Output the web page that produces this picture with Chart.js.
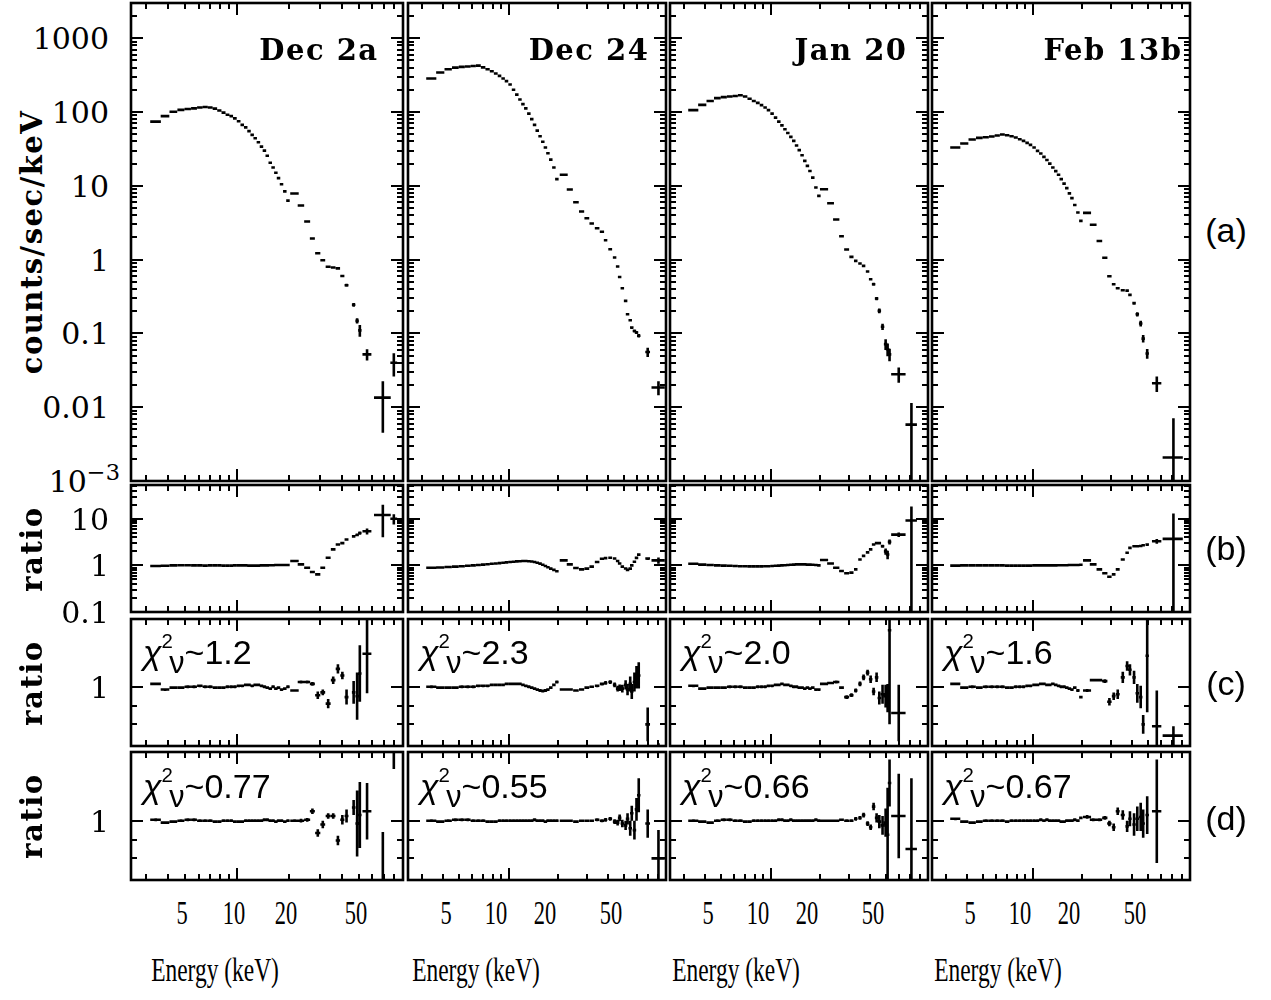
<!DOCTYPE html>
<html>
<head>
<meta charset="utf-8">
<title>Spectra and ratios</title>
<script src="https://cdn.jsdelivr.net/npm/chart.js@4.4.1/dist/chart.umd.min.js"></script>
<style>
  html, body { margin: 0; padding: 0; background: #fff; }
  body { position: relative; width: 1271px; height: 1000px; overflow: hidden; }
  canvas { position: absolute; }
  .txt { position: absolute; color: #000; white-space: nowrap; line-height: 1; }
  .mono { font-family: "DejaVu Serif", serif; font-weight: bold; font-size: 29px; letter-spacing: 1.5px; }
  .num { font-family: "DejaVu Serif", serif; font-size: 30px; }
  .num sup { font-size: 0.75em; position: relative; top: -0.55em; }
  .sans { font-family: "Liberation Sans", Arial, sans-serif; font-size: 34px; }
  .sans sup { font-size: 0.6em; position: relative; top: -0.8em; }
  .sans sub { font-size: 0.9em; position: relative; top: 0.28em; margin-left: -0.12em; }
  .tag { font-family: "Liberation Sans", Arial, sans-serif; font-size: 34px; }
  .cond { font-family: "Liberation Serif", "Times New Roman", serif; font-size: 33px; }
  sup, sub { vertical-align: baseline; line-height: 0; }
</style>
</head>
<body>
<script>
// energies are bin centres in keV, half widths in keV
const pcaEnergy = [3.4, 3.85, 4.3, 4.75, 5.2, 5.65, 6.1, 6.55, 7.0, 7.45, 7.9, 8.35, 8.8, 9.25, 9.7, 10.2,
  10.7, 11.2, 11.7, 12.2, 12.7, 13.25, 13.8, 14.35, 14.9, 15.5, 16.1, 16.7, 17.3, 18.0, 18.8, 19.6];
const pcaHalfWidth = [0.24, 0.22, 0.22, 0.22, 0.22, 0.22, 0.22, 0.22, 0.22, 0.22, 0.22, 0.22, 0.22, 0.22, 0.24, 0.25,
  0.25, 0.25, 0.25, 0.25, 0.26, 0.27, 0.27, 0.27, 0.28, 0.3, 0.3, 0.3, 0.32, 0.36, 0.4, 0.4];

const obsNames = ['Dec 2a', 'Dec 24', 'Jan 20', 'Feb 13b'];
const chiFitC = ['1.2', '2.3', '2.0', '1.6'];
const chiFitD = ['0.77', '0.55', '0.66', '0.67'];
const rowTags = ['(a)', '(b)', '(c)', '(d)'];

// ---- Dec 2a
const dec2aHexteE = [21.4, 23.3, 25.3, 27.1, 29.1, 31.1, 33.4, 35.7, 38.0, 40.3, 42.6, 46.8, 49.0, 50.8, 55.9, 68.9, 79.7];
const dec2aHexteHW = [1.2, 1.0, 1.0, 0.9, 1.0, 1.0, 1.1, 1.1, 1.1, 1.1, 1.1, 1.0, 0.9, 0.9, 3.3, 7.6, 3.6];
const dec2aCountsPca = [74, 88, 101, 107, 110, 112, 115, 117, 115, 111, 105, 98, 92, 88, 82, 75,
  67, 62, 55, 49, 44, 39, 34, 30, 25.5, 20.5, 17.7, 15, 12.7, 10.5, 8.4, 6.3];
const dec2aCountsHexte = [7.85, 5.4, 3.28, 1.93, 1.22, 0.98, 0.80, 0.78, 0.76, 0.6, 0.45, 0.244, 0.148, 0.11, 0.052, 0.0135, 0.040];
const dec2aCountsErr = [0.1, 0.08, 0.05, 0.03, 0.02, 0.02, 0.02, 0.02, 0.02, 0.02, 0.02, 0.015, 0.012, 0.02, 0.009, 0.009, 0.014];
const dec2aRatioBPca = [0.97, 0.98, 1.0, 1.01, 1.01, 1.0, 1.0, 0.99, 1.0, 1.0, 1.0, 0.99, 0.99, 0.99, 1.0, 1.0,
  1.0, 1.0, 0.99, 0.99, 0.99, 0.99, 1.0, 1.0, 1.0, 1.01, 1.01, 1.02, 1.02, 1.02, 1.02, 1.02];
const dec2aRatioBHexte = [1.24, 1.05, 0.89, 0.72, 0.64, 0.89, 1.46, 2.2, 2.8, 3.0, 3.6, 4.2, 4.5, 4.96, 5.4, 12, 10];
const dec2aRatioBErr = [0.02, 0.02, 0.02, 0.02, 0.02, 0.03, 0.05, 0.08, 0.1, 0.12, 0.15, 0.2, 0.3, 0.4, 0.8, 8, 2.5];
const dec2aRatioCPca = [1.03, 0.97, 0.99, 0.99, 1.0, 1.0, 1.01, 1.0, 1.0, 0.99, 0.99, 0.99, 1.0, 1.0, 1.0, 1.01,
  1.01, 1.02, 1.02, 1.01, 1.02, 1.02, 1.01, 1.0, 0.99, 0.98, 1.0, 0.98, 0.99, 0.97, 0.98, 1.0];
const dec2aRatioCHexte = [0.96, 1.05, 1.05, 1.03, 0.91, 0.94, 0.82, 1.07, 1.19, 1.12, 0.89, 0.94, 0.9, 1.14, 1.35, null, null];
const dec2aRatioCErr = [0.012, 0.015, 0.015, 0.02, 0.04, 0.03, 0.05, 0.04, 0.05, 0.04, 0.08, 0.12, 0.25, 0.3, 0.42, 0, 0];
const dec2aRatioDPca = [1.01, 0.98, 0.99, 1.0, 1.01, 1.01, 1.0, 1.0, 1.0, 0.99, 0.99, 1.0, 1.0, 1.0, 0.99, 0.99,
  0.99, 1.0, 1.0, 1.0, 1.0, 1.0, 1.0, 1.01, 1.01, 1.0, 1.0, 0.99, 1.0, 1.0, 0.99, 1.0];
const dec2aRatioDHexte = [1.0, 1.0, 1.01, 1.1, 0.87, 0.96, 1.05, 1.05, 0.79, 1.01, 1.05, 1.14, 0.97, 1.06, 1.1, 0.3, 1.85];
const dec2aRatioDErr = [0.015, 0.02, 0.02, 0.03, 0.04, 0.04, 0.03, 0.03, 0.05, 0.05, 0.07, 0.08, 0.35, 0.35, 0.3, 0.58, 0.3];

// ---- Dec 24
const dec24HexteE = [21.6, 23.5, 25.6, 27.7, 29.8, 31.9, 34.4, 36.8, 38.7, 41.3, 43.9, 45.8, 47.1, 48.9, 51.2, 52.6,
  54.6, 55.8, 57.9, 59.6, 61.5, 69.7, 81];
const dec24HexteHW = [1.2, 1.0, 1.0, 1.0, 1.0, 1.0, 1.1, 1.1, 0.9, 1.1, 1.0, 0.8, 0.6, 0.8, 0.9, 0.6,
  0.9, 0.6, 0.9, 0.8, 0.9, 2.3, 7.5];
const dec24CountsPca = [284, 343, 380, 400, 409, 414, 420, 425, 402, 380, 357, 333, 309, 284, 262, 236,
  200, 172, 148, 128, 112, 95, 80, 67, 56, 47, 39.5, 33, 27.6, 22.6, 17.7, 12.3];
const dec24CountsHexte = [14.1, 8.9, 6.0, 4.48, 3.64, 3.08, 2.66, 2.38, 1.83, 1.38, 1.07, 0.805, 0.58, 0.41, 0.276, 0.182,
  0.151, 0.12, 0.108, 0.103, 0.093, 0.056, 0.0185];
const dec24CountsErr = [0.1, 0.08, 0.06, 0.05, 0.04, 0.04, 0.03, 0.03, 0.03, 0.02, 0.02, 0.015, 0.012, 0.01, 0.008, 0.006,
  0.006, 0.005, 0.005, 0.005, 0.005, 0.008, 0.004];
const dec24RatioBPca = [0.89, 0.9, 0.92, 0.94, 0.96, 0.98, 1.0, 1.02, 1.04, 1.06, 1.08, 1.1, 1.12, 1.14, 1.16, 1.18,
  1.2, 1.22, 1.23, 1.24, 1.24, 1.23, 1.21, 1.18, 1.14, 1.09, 1.03, 0.97, 0.91, 0.85, 0.8, 0.75];
const dec24RatioBHexte = [1.28, 1.05, 0.88, 0.82, 0.85, 0.94, 1.18, 1.39, 1.43, 1.46, 1.4, 1.24, 1.1, 0.94, 0.86, 0.8,
  0.85, 1.0, 1.2, 1.45, 1.7, 1.4, 1.28];
const dec24RatioBErr = [0.01, 0.01, 0.01, 0.01, 0.01, 0.01, 0.02, 0.02, 0.02, 0.02, 0.02, 0.02, 0.02, 0.02, 0.02, 0.02,
  0.03, 0.03, 0.03, 0.04, 0.05, 0.1, 0.2];
const dec24RatioCPca = [1.0, 0.99, 0.99, 0.99, 1.0, 1.0, 1.0, 1.01, 1.01, 1.01, 1.02, 1.02, 1.02, 1.02, 1.03, 1.03,
  1.03, 1.03, 1.03, 1.02, 1.01, 1.0, 0.99, 0.98, 0.97, 0.96, 0.955, 0.96, 0.97, 0.99, 1.02, 1.05];
const dec24RatioCHexte = [0.97, 0.97, 0.96, 0.97, 0.99, 1.0, 1.01, 1.03, 1.04, 1.05, 1.02, 0.98, 0.99, 0.98, 1.02, 0.97,
  1.03, 0.95, 1.05, 1.1, 1.12, 0.6, 0.3];
const dec24RatioCErr = [0.01, 0.01, 0.01, 0.012, 0.012, 0.014, 0.015, 0.016, 0.02, 0.02, 0.025, 0.03, 0.035, 0.04, 0.05, 0.06,
  0.08, 0.08, 0.1, 0.12, 0.14, 0.18, 0.1];
const dec24RatioDPca = [1.0, 0.99, 1.0, 1.01, 1.01, 1.01, 1.0, 1.0, 1.0, 0.99, 0.99, 0.99, 1.0, 1.0, 1.0, 1.0,
  1.0, 1.0, 1.0, 1.0, 1.0, 1.0, 1.0, 1.01, 1.0, 1.0, 1.0, 0.99, 1.0, 1.0, 1.0, 1.0];
const dec24RatioDHexte = [1.0, 1.0, 0.99, 1.0, 1.0, 1.0, 1.01, 1.0, 1.01, 1.02, 0.99, 0.98, 1.03, 0.97, 0.95, 1.02,
  0.92, 1.08, 0.9, 1.12, 1.27, 0.97, 0.6];
const dec24RatioDErr = [0.01, 0.01, 0.01, 0.012, 0.012, 0.014, 0.015, 0.016, 0.02, 0.02, 0.025, 0.03, 0.035, 0.04, 0.05, 0.06,
  0.08, 0.08, 0.1, 0.12, 0.18, 0.15, 0.3];

// ---- Jan 20
const jan20HexteE = [21.1, 23.1, 25.0, 26.9, 28.9, 30.9, 32.8, 34.8, 36.6, 38.7, 40.4, 42.1, 43.9, 45.6, 47.7, 49.8,
  51.2, 52.6, 59.8, 71.4];
const jan20HexteHW = [1.2, 1.1, 1.1, 0.9, 1.0, 0.9, 0.8, 0.8, 0.7, 0.7, 0.6, 0.7, 0.6, 0.6, 0.6, 0.8, 0.7, 0.7, 6.0, 5.7];
const jan20CountsPca = [106, 125, 141, 154, 159, 162, 165, 169, 162, 151, 141, 133, 124, 115, 106, 95,
  84, 74, 66, 58.5, 52, 46, 40.6, 35.1, 30.4, 26, 21.8, 18.6, 15.9, 12.9, 9.5, 7.3];
const jan20CountsHexte = [9.0, 5.81, 3.49, 2.07, 1.37, 1.09, 0.96, 0.885, 0.822, 0.689, 0.543, 0.464, 0.297, 0.202, 0.123, 0.0715,
  0.061, 0.052, 0.028, 0.0058];
const jan20CountsErr = [0.08, 0.06, 0.04, 0.03, 0.02, 0.02, 0.02, 0.02, 0.02, 0.02, 0.02, 0.02, 0.015, 0.015, 0.012, 0.012,
  0.012, 0.01, 0.0065, 0.0056];
const jan20RatioBPca = [1.08, 1.04, 1.02, 1.0, 0.99, 0.98, 0.97, 0.96, 0.96, 0.95, 0.95, 0.95, 0.95, 0.96, 0.96, 0.97,
  0.98, 0.99, 1.0, 1.01, 1.02, 1.03, 1.04, 1.05, 1.05, 1.05, 1.05, 1.04, 1.04, 1.03, 1.02, 1.0];
const jan20RatioBHexte = [1.3, 1.1, 0.89, 0.76, 0.68, 0.7, 0.82, 1.34, 1.6, 1.9, 2.2, 2.8, 3.0, 3.0, 2.58, 2.0,
  1.71, 3.2, 4.56, 9.2];
const jan20RatioBErr = [0.02, 0.02, 0.02, 0.02, 0.02, 0.02, 0.03, 0.04, 0.05, 0.06, 0.08, 0.1, 0.12, 0.15, 0.2, 0.3,
  0.35, 0.4, 0.5, 9.15];
const jan20RatioCPca = [1.01, 0.98, 0.99, 0.99, 0.99, 1.0, 1.0, 1.0, 0.99, 0.99, 0.99, 1.0, 1.0, 1.0, 1.01, 1.01,
  1.02, 1.02, 1.03, 1.02, 1.02, 1.01, 1.0, 1.0, 0.99, 0.99, 0.98, 0.99, 0.98, 0.99, 0.97, 0.97];
const jan20RatioCHexte = [1.03, 1.04, 1.05, 0.99, 0.89, 0.91, 0.96, 1.03, 1.1, 1.15, 1.08, 0.95, 1.1, 0.88, 0.92, 0.9,
  0.88, 1.6, 0.72, null];
const jan20RatioCErr = [0.012, 0.012, 0.015, 0.015, 0.02, 0.02, 0.02, 0.025, 0.03, 0.03, 0.04, 0.04, 0.05, 0.07, 0.1, 0.12,
  0.15, 1.0, 0.3, 0];
const jan20RatioDPca = [1.0, 0.99, 0.98, 1.0, 1.01, 1.01, 1.0, 1.0, 0.99, 0.99, 1.0, 1.0, 1.0, 1.0, 1.0, 1.0,
  1.0, 1.01, 1.01, 1.0, 1.0, 1.01, 1.0, 1.0, 1.0, 1.0, 1.0, 1.0, 1.0, 1.0, 1.01, 1.0];
const jan20RatioDHexte = [1.0, 1.0, 1.0, 1.01, 1.0, 1.0, 1.02, 1.03, 1.06, 0.97, 0.93, 1.15, 1.03, 0.99, 0.95, 0.98,
  0.85, 1.4, 1.05, 0.7];
const jan20RatioDErr = [0.01, 0.01, 0.012, 0.012, 0.015, 0.015, 0.02, 0.02, 0.025, 0.025, 0.03, 0.04, 0.05, 0.07, 0.1, 0.15,
  0.5, 0.25, 0.45, 0.75];

// ---- Feb 13b
const feb13bHexteE = [21.4, 23.3, 25.4, 27.4, 29.2, 31.0, 32.8, 35.2, 37.4, 38.9, 41.2, 43.1, 45.2, 46.8, 49.5, 56.6, 71.4];
const feb13bHexteHW = [1.2, 1.1, 1.0, 1.0, 0.9, 0.8, 0.9, 1.0, 0.8, 0.8, 1.0, 0.9, 0.9, 0.8, 1.2, 3.7, 10];
const feb13bCountsPca = [33, 37.4, 42.4, 44.6, 45.5, 46.5, 48, 49.5, 48.5, 47, 45.1, 42.8, 40.6, 38.2, 35.9, 33,
  29.7, 27.4, 24.7, 22.4, 20, 17.7, 15.8, 14.1, 12.3, 10.7, 9.3, 7.9, 6.8, 5.5, 4.35, 3.35];
const feb13bCountsHexte = [4.3, 2.96, 1.79, 1.06, 0.596, 0.464, 0.41, 0.385, 0.38, 0.333, 0.257, 0.182, 0.136, 0.085, 0.0533,
  0.0211, 0.00208];
const feb13bCountsErr = [0.05, 0.04, 0.03, 0.02, 0.015, 0.015, 0.015, 0.012, 0.012, 0.012, 0.012, 0.012, 0.012, 0.01, 0.008,
  0.005, 0.005];
const feb13bRatioBPca = [0.99, 1.0, 1.0, 1.0, 1.0, 1.0, 1.0, 1.0, 0.99, 0.99, 0.99, 0.99, 0.99, 0.99, 0.99, 1.0,
  1.0, 1.0, 1.0, 1.0, 1.0, 1.0, 1.0, 1.01, 1.01, 1.01, 1.01, 1.02, 1.02, 1.02, 1.02, 1.03];
const feb13bRatioBHexte = [1.28, 1.05, 0.82, 0.68, 0.57, 0.64, 0.82, 1.34, 1.86, 2.38, 2.58, 2.58, 2.6, 2.7, 2.8, 3.3, 3.7];
const feb13bRatioBErr = [0.02, 0.02, 0.02, 0.02, 0.02, 0.03, 0.03, 0.04, 0.05, 0.07, 0.08, 0.1, 0.12, 0.15, 0.2, 0.4, 9.3];
const feb13bRatioCPca = [1.03, 0.99, 1.0, 0.99, 1.0, 1.0, 1.0, 1.0, 0.99, 0.99, 1.0, 1.0, 1.0, 1.01, 1.01, 1.02,
  1.02, 1.03, 1.03, 1.02, 1.02, 1.03, 1.02, 1.01, 1.0, 1.0, 0.99, 0.98, 0.97, 0.99, 0.96, 0.89];
const feb13bRatioCHexte = [0.96, 1.07, 1.07, 1.06, 0.84, 0.9, 0.92, 1.1, 1.22, 1.18, 1.1, 0.93, 0.89, 0.6, 1.33, 0.58, 0.48];
const feb13bRatioCErr = [0.015, 0.015, 0.015, 0.02, 0.04, 0.04, 0.05, 0.06, 0.05, 0.06, 0.07, 0.1, 0.12, 0.1, 0.6, 0.38, 0.1];
const feb13bRatioDPca = [1.02, 0.99, 0.98, 0.99, 1.0, 1.0, 1.0, 1.0, 0.99, 1.0, 1.0, 1.0, 1.0, 1.0, 1.0, 1.0,
  1.0, 1.01, 1.0, 1.01, 1.0, 1.0, 1.0, 1.0, 0.99, 0.99, 1.0, 1.0, 1.0, 1.01, 1.0, 1.03];
const feb13bRatioDHexte = [1.04, 1.01, 1.01, 1.03, 0.97, 0.93, 1.1, 1.06, 0.94, 1.02, 0.96, 1.02, 1.04, 0.97, 1.06, 1.1, null];
const feb13bRatioDErr = [0.02, 0.015, 0.015, 0.02, 0.03, 0.04, 0.04, 0.05, 0.06, 0.08, 0.12, 0.13, 0.15, 0.15, 0.2, 0.55, 0];

// typical 1-sigma size of the PCA points in each row
const pcaErrByRow = [0, 0.01, 0.015, 0.015];

// tick labels
const yTickCounts = [1000, 100, 10, 1, 0.1, 0.01, 0.001];
const yTickCountsText = ['1000', '100', '10', '1', '0.1', '0.01', '10<sup>\u22123</sup>'];
const yTickRatioB = [10, 1, 0.1];
const yTickRatioBText = ['10', '1', '0.1'];
const yTickRatioCD = [1];
const yTickRatioCDText = ['1'];
const xTickValues = [5, 10, 20, 50];
const xTickText = ['5', '10', '20', '50'];

// ---- layout
const colLeft = [131, 408, 670, 932];
const colRight = [403, 666, 928, 1190];
const rowTop = [3, 485, 619, 752];
const rowBottom = [481, 612, 746, 880];
const pad = 4;
const xMin = 2.45, xMax = 90;
const xLabelShift = [-3, -13, -13, -13];
const energyTitleX = [215, 476, 736, 998];

function logMinor(e0, e1, lo, hi) {
  const out = [];
  for (let e = e0; e <= e1; e++) {
    for (let m = 2; m <= 9; m++) {
      const v = m * Math.pow(10, e);
      if (v > lo && v < hi) out.push(v);
    }
  }
  return out;
}
const xMajorTicks = [10];
const xMinorTicks = [3, 4, 5, 6, 7, 8, 9, 20, 30, 40, 50, 60, 70, 80];

const rowAxis = [
  { type: 'logarithmic', min: 1e-3, max: 3000, major: [1e-3, 0.01, 0.1, 1, 10, 100, 1000], minor: logMinor(-3, 3, 1e-3, 2990) },
  { type: 'logarithmic', min: 0.1, max: 53, major: [0.1, 1, 10], minor: logMinor(-1, 1, 0.1, 52) },
  { type: 'linear', min: 0.37, max: 1.72, major: [1], minor: [0.6, 0.8] },
  { type: 'linear', min: 0.37, max: 1.73, major: [1], minor: [0.6, 0.8] }
];

const hexteEnergy = [dec2aHexteE, dec24HexteE, jan20HexteE, feb13bHexteE];
const hexteHalfWidth = [dec2aHexteHW, dec24HexteHW, jan20HexteHW, feb13bHexteHW];
const pcaRows = [
  [dec2aCountsPca, dec24CountsPca, jan20CountsPca, feb13bCountsPca],
  [dec2aRatioBPca, dec24RatioBPca, jan20RatioBPca, feb13bRatioBPca],
  [dec2aRatioCPca, dec24RatioCPca, jan20RatioCPca, feb13bRatioCPca],
  [dec2aRatioDPca, dec24RatioDPca, jan20RatioDPca, feb13bRatioDPca]
];
const hexteRows = [
  [dec2aCountsHexte, dec24CountsHexte, jan20CountsHexte, feb13bCountsHexte],
  [dec2aRatioBHexte, dec24RatioBHexte, jan20RatioBHexte, feb13bRatioBHexte],
  [dec2aRatioCHexte, dec24RatioCHexte, jan20RatioCHexte, feb13bRatioCHexte],
  [dec2aRatioDHexte, dec24RatioDHexte, jan20RatioDHexte, feb13bRatioDHexte]
];
const hexteErrRows = [
  [dec2aCountsErr, dec24CountsErr, jan20CountsErr, feb13bCountsErr],
  [dec2aRatioBErr, dec24RatioBErr, jan20RatioBErr, feb13bRatioBErr],
  [dec2aRatioCErr, dec24RatioCErr, jan20RatioCErr, feb13bRatioCErr],
  [dec2aRatioDErr, dec24RatioDErr, jan20RatioDErr, feb13bRatioDErr]
];

function buildPoints(row, col) {
  const pts = [];
  pcaEnergy.forEach((e, i) => pts.push({ x: e, y: pcaRows[row][col][i], dx: pcaHalfWidth[i], dy: pcaErrByRow[row] }));
  hexteEnergy[col].forEach((e, i) => {
    const v = hexteRows[row][col][i];
    if (v !== null) pts.push({ x: e, y: v, dx: hexteHalfWidth[col][i], dy: hexteErrRows[row][col][i] });
  });
  return pts;
}

// crosses: bin width horizontally, error vertically
const errorBars = {
  id: 'errorBars',
  afterDatasetsDraw(chart) {
    const { ctx, chartArea: a, scales: { x, y } } = chart;
    ctx.save();
    ctx.beginPath();
    ctx.rect(a.left, a.top, a.right - a.left, a.bottom - a.top);
    ctx.clip();
    ctx.strokeStyle = '#000';
    ctx.lineWidth = 2.6;
    ctx.beginPath();
    chart.data.datasets[0].data.forEach(p => {
      const px = x.getPixelForValue(p.x);
      const py = y.getPixelForValue(p.y);
      let x0 = x.getPixelForValue(p.x - p.dx), x1 = x.getPixelForValue(p.x + p.dx);
      if (x1 - x0 < 3.5) { x0 = px - 1.75; x1 = px + 1.75; }
      ctx.moveTo(x0, py); ctx.lineTo(x1, py);
      if (p.dy > 0) {
        const lo = p.y - p.dy;
        const y0 = (y.type === 'logarithmic' && lo <= 0) ? a.bottom + 20 : y.getPixelForValue(lo);
        const y1 = y.getPixelForValue(p.y + p.dy);
        if (y0 - y1 > 2) { ctx.moveTo(px, y0); ctx.lineTo(px, y1); }
      }
    });
    ctx.stroke();
    ctx.restore();
  }
};

// box with inward ticks on all four sides
const frameTicks = {
  id: 'frameTicks',
  afterDraw(chart, args, opts) {
    const { ctx, chartArea: a, scales: { x, y } } = chart;
    ctx.save();
    ctx.strokeStyle = '#000';
    ctx.lineWidth = 2;
    ctx.beginPath();
    const xt = (vals, len) => vals.forEach(v => {
      const px = Math.round(x.getPixelForValue(v));
      ctx.moveTo(px, a.bottom); ctx.lineTo(px, a.bottom - len);
      ctx.moveTo(px, a.top); ctx.lineTo(px, a.top + len);
    });
    const yt = (vals, len) => vals.forEach(v => {
      const py = Math.round(y.getPixelForValue(v));
      ctx.moveTo(a.left, py); ctx.lineTo(a.left + len, py);
      ctx.moveTo(a.right, py); ctx.lineTo(a.right - len, py);
    });
    xt(xMajorTicks, 12);
    xt(xMinorTicks, 6);
    yt(opts.major, 12);
    yt(opts.minor, 6);
    ctx.stroke();
    ctx.lineWidth = 2.6;
    ctx.strokeRect(a.left, a.top, a.right - a.left, a.bottom - a.top);
    ctx.restore();
  }
};

function makePanel(row, col) {
  const w = colRight[col] - colLeft[col];
  const h = rowBottom[row] - rowTop[row];
  const canvas = document.createElement('canvas');
  canvas.width = w + 2 * pad;
  canvas.height = h + 2 * pad;
  canvas.style.left = (colLeft[col] - pad) + 'px';
  canvas.style.top = (rowTop[row] - pad) + 'px';
  canvas.style.width = (w + 2 * pad) + 'px';
  canvas.style.height = (h + 2 * pad) + 'px';
  document.body.appendChild(canvas);
  const ax = rowAxis[row];
  return new Chart(canvas, {
    type: 'scatter',
    data: { datasets: [{ data: buildPoints(row, col), pointRadius: 0, pointHoverRadius: 0, showLine: false }] },
    options: {
      responsive: false,
      animation: false,
      events: [],
      layout: { padding: pad },
      plugins: {
        legend: { display: false },
        tooltip: { enabled: false },
        frameTicks: { major: ax.major, minor: ax.minor }
      },
      scales: {
        x: { type: 'logarithmic', min: xMin, max: xMax, bounds: 'data', display: false },
        y: { type: ax.type, min: ax.min, max: ax.max, bounds: 'data', display: false }
      }
    },
    plugins: [errorBars, frameTicks]
  });
}

const grid = [];
for (let r = 0; r < 4; r++) {
  grid.push([]);
  for (let c = 0; c < 4; c++) grid[r].push(makePanel(r, c));
}

function putText(html, x, y, cls, anchor, extra) {
  const d = document.createElement('div');
  d.className = 'txt ' + cls;
  d.innerHTML = html;
  d.style.left = x + 'px';
  d.style.top = y + 'px';
  const ax = anchor === 'right' ? '-100%' : anchor === 'left' ? '0' : '-50%';
  d.style.transform = 'translate(' + ax + ', -50%) ' + (extra || '');
  document.body.appendChild(d);
  return d;
}

// y tick labels on the left column, placed through each panel's y scale
const yLabelSets = [
  [yTickCounts, yTickCountsText],
  [yTickRatioB, yTickRatioBText],
  [yTickRatioCD, yTickRatioCDText],
  [yTickRatioCD, yTickRatioCDText]
];
yLabelSets.forEach(([vals, texts], r) => {
  const ch = grid[r][0];
  vals.forEach((v, i) => {
    const py = rowTop[r] - pad + ch.scales.y.getPixelForValue(v);
    const isExp = texts[i].indexOf('sup') >= 0;
    putText(texts[i], isExp ? 120 : 109, py + 1, 'num', 'right');
  });
});

// x tick labels below the bottom row
for (let c = 0; c < 4; c++) {
  const ch = grid[3][c];
  xTickValues.forEach((v, i) => {
    const px = colLeft[c] - pad + ch.scales.x.getPixelForValue(v) + xLabelShift[c];
    putText(xTickText[i], px, 913, 'cond', 'center', 'scaleX(0.68)');
  });
  putText('Energy (keV)', energyTitleX[c], 970, 'cond', 'center', 'scaleX(0.71)');
}

// observation names and fit quality
for (let c = 0; c < 4; c++) {
  putText(obsNames[c], (colLeft[c] + colRight[c]) / 2 + 52, 50, 'mono', 'center');
  putText('<i>\u03c7</i><sup>2</sup><sub>\u03bd</sub>~' + chiFitC[c], colLeft[c] + 12, rowTop[2] + 33, 'sans', 'left');
  putText('<i>\u03c7</i><sup>2</sup><sub>\u03bd</sub>~' + chiFitD[c], colLeft[c] + 12, rowTop[3] + 34, 'sans', 'left');
}

// axis titles and row tags
putText('counts/sec/keV', 32, 242, 'mono', 'center', 'rotate(-90deg)');
for (let r = 1; r < 4; r++) {
  putText('ratio', 32, (rowTop[r] + rowBottom[r]) / 2, 'mono', 'center', 'rotate(-90deg)');
}
const tagY = [230, 548, 683, 818];
rowTags.forEach((t, r) => putText(t, 1226, tagY[r], 'tag', 'center'));
</script>
</body>
</html>
